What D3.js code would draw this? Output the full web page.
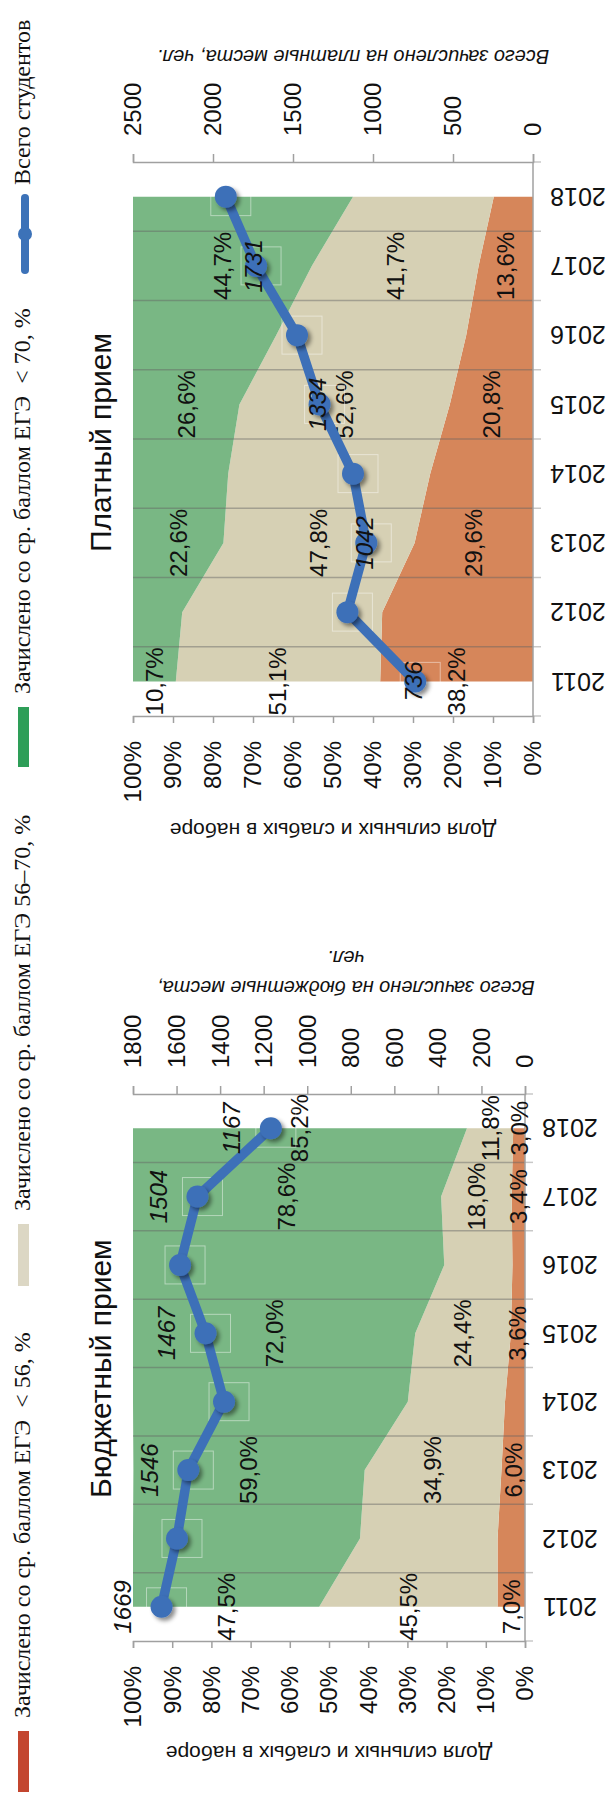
<!DOCTYPE html>
<html><head><meta charset="utf-8">
<script src="https://cdn.jsdelivr.net/npm/d3@7"></script>
<style>
html,body{margin:0;padding:0;background:#fff;}
svg{display:block;}
text{white-space:pre;}
</style></head>
<body>
<svg id="c" width="610" height="1799"></svg>
<script>
// ---------- DATA ----------
const years = [2011, 2012, 2013, 2014, 2015, 2016, 2017, 2018];

// Платный прием (paid), shares in %
const paidLow  = [38.2, 37.7, 29.6, 25.7, 20.8, 16.7, 13.6, 9.8];   // < 56
const paidMid  = [51.1, 50.0, 47.8, 50.5, 52.6, 47.5, 41.7, 35.2];  // 56–70
const paidHigh = [10.7, 12.3, 22.6, 23.8, 26.6, 35.8, 44.7, 55.0];  // > 70
const paidTotal = [736, 1160, 1042, 1125, 1334, 1475, 1731, 1920];
const paidLabelYears = [2011, 2013, 2015, 2017];

// Бюджетный прием (budget)
const budgetLow  = [7.0, 7.0, 6.0, 5.1, 3.6, 3.2, 3.4, 3.0];
const budgetMid  = [45.5, 35.1, 34.9, 24.8, 24.4, 17.4, 18.0, 11.8];
const budgetHigh = [47.5, 57.9, 59.0, 70.1, 72.0, 79.4, 78.6, 85.2];
const budgetTotal = [1669, 1598, 1546, 1382, 1467, 1584, 1504, 1167];
const budgetLabelYears = [2011, 2013, 2015, 2017, 2018];

const pctTicks = [0, 10, 20, 30, 40, 50, 60, 70, 80, 90, 100];
const paidCountTicks = [0, 500, 1000, 1500, 2000, 2500];
const budgetCountTicks = [0, 200, 400, 600, 800, 1000, 1200, 1400, 1600, 1800];

const legendLabels = ["Зачислено со ср. баллом ЕГЭ  < 56, %",
                      "Зачислено со ср. баллом ЕГЭ 56–70, %",
                      "Зачислено со ср. баллом ЕГЭ  < 70, %",
                      "Всего студентов"];

// ---------- STYLE ----------
const areaColors = ["#d6865a", "#d6d0b4", "#79b784"];
const legendColors = ["#c3462f", "#dcd7c4", "#2e9e58", "#3c72b8"];
const lineColor = "#3d70b8";
const sans = "'Liberation Sans', Arial, sans-serif";
const serif = "'Liberation Serif', 'Times New Roman', serif";

const svg = d3.select("#c");
const defs = svg.append("defs");
const f = defs.append("filter").attr("id", "sh").attr("x", "-50%").attr("y", "-50%").attr("width", "200%").attr("height", "200%");
f.append("feDropShadow").attr("dx", 3).attr("dy", 3).attr("stdDeviation", 2.2).attr("flood-color", "#000").attr("flood-opacity", 0.45);

const fmtPct = v => d3.format(".1f")(v).replace(".", ",") + "%";

function panel(cfg) {
  const g = svg.append("g");
  const x = d3.scaleLinear().domain([0, 100]).range([cfg.right, cfg.left]);
  const xc = d3.scaleLinear().domain([0, cfg.countMax]).range([cfg.right, cfg.left]);
  const y = d3.scalePoint().domain(years).range([cfg.bottom, cfg.top]).padding(0.5);
  const band = (cfg.bottom - cfg.top) / years.length;

  const rows = years.map((yr, i) => ({year: yr, low: cfg.low[i], mid: cfg.mid[i], high: cfg.high[i], total: cfg.total[i]}));
  const stack = d3.stack().keys(["low", "mid", "high"])(rows);

  const area = d3.area().y(d => y(d.data.year)).x0(d => x(d[0])).x1(d => x(d[1]));
  g.selectAll("path.a").data(stack).join("path").attr("class", "a")
    .attr("d", area).attr("fill", (d, i) => areaColors[i]);

  // category boundaries (gridlines + ticks)
  const bounds = d3.range(years.length + 1).map(k => cfg.bottom - k * band);
  g.selectAll("line.grid").data(bounds.slice(1, -1)).join("line").attr("class", "grid")
    .attr("x1", cfg.left).attr("x2", cfg.right).attr("y1", d => d).attr("y2", d => d)
    .attr("stroke", "rgba(100,100,100,0.45)").attr("stroke-width", 1.5);
  g.selectAll("line.ct").data(bounds).join("line").attr("class", "ct")
    .attr("x1", cfg.right).attr("x2", cfg.right + 8).attr("y1", d => d).attr("y2", d => d)
    .attr("stroke", "#c8c8c8").attr("stroke-width", 1.5);
  // category axis line
  g.append("line").attr("x1", cfg.right).attr("x2", cfg.right).attr("y1", cfg.top).attr("y2", cfg.bottom)
    .attr("stroke", "#a0a0a0").attr("stroke-width", 1.5);

  // percent axis (bottom)
  const pa = g.append("g").attr("transform", `translate(0,${cfg.bottom})`)
    .call(d3.axisBottom(x).tickValues(pctTicks).tickSize(7).tickFormat(""));
  pa.select(".domain").attr("stroke", "#a0a0a0").attr("stroke-width", 1.5);
  pa.selectAll(".tick line").attr("stroke", "#a0a0a0").attr("stroke-width", 1.5);
  g.selectAll("text.pt").data(pctTicks).join("text").attr("class", "pt")
    .attr("transform", d => `translate(${x(d)},${cfg.bottom + 25}) rotate(-90)`)
    .attr("text-anchor", "end").attr("dy", "0.35em")
    .style("font", `24px ${sans}`).attr("fill", "#111").text(d => d + "%");

  // count axis (top)
  const ca = g.append("g").attr("transform", `translate(0,${cfg.top})`)
    .call(d3.axisTop(xc).tickValues(cfg.countTicks).tickSize(8).tickFormat(""));
  ca.select(".domain").attr("stroke", "#a0a0a0").attr("stroke-width", 1.5);
  ca.selectAll(".tick line").attr("stroke", "#a0a0a0").attr("stroke-width", 1.5);
  g.selectAll("text.ctk").data(cfg.countTicks).join("text").attr("class", "ctk")
    .attr("transform", d => `translate(${xc(d)},${cfg.top - 26}) rotate(-90)`)
    .attr("text-anchor", "start").attr("dy", "0.35em")
    .style("font", `24px ${sans}`).attr("fill", "#111").text(d => d);

  // year labels (upside down)
  g.selectAll("text.yr").data(years).join("text").attr("class", "yr")
    .attr("transform", d => `translate(${cfg.right + 45},${y(d)}) rotate(180)`)
    .attr("text-anchor", "middle").attr("dy", "0.35em")
    .style("font", `25px ${sans}`).attr("fill", "#111").text(d => d);

  // axis titles (upside down)
  g.append("text").attr("transform", `translate(${(cfg.left + cfg.right) / 2},${cfg.pctTitleY}) rotate(180)`)
    .attr("text-anchor", "middle").attr("dy", "0.35em")
    .style("font", `21px ${sans}`).attr("fill", "#111").text("Доля сильных и слабых в наборе");
  cfg.countTitle.forEach((t, i) => {
    g.append("text").attr("transform", `translate(${cfg.countTitleX},${cfg.countTitleY[i]}) rotate(180)`)
      .attr("text-anchor", "middle").attr("dy", "0.35em")
      .style("font", `italic 20px ${sans}`).attr("fill", "#111").text(t);
  });

  // chart title
  g.append("text").attr("transform", `translate(111,${cfg.titleY}) rotate(-90)`)
    .attr("text-anchor", "start")
    .style("font", `30px ${sans}`).attr("fill", "#111").text(cfg.title);

  // data labels for stacked areas
  const lab = [];
  rows.forEach(r => {
    if (!cfg.labelYears.includes(r.year)) return;
    const c0 = r.low, c1 = r.low + r.mid;
    lab.push({v: r.low, p: (0 + c0) / 2, yr: r.year});
    lab.push({v: r.mid, p: (c0 + c1) / 2, yr: r.year});
    lab.push({v: r.high, p: (c1 + 100) / 2, yr: r.year});
  });
  g.selectAll("text.dl").data(lab).join("text").attr("class", "dl")
    .attr("transform", d => `translate(${x(d.p)},${y(d.yr)}) rotate(-90)`)
    .attr("text-anchor", "middle").attr("dy", "0.35em")
    .style("font", `24px ${sans}`).attr("fill", "#111").text(d => fmtPct(d.v));

  // faint marker boxes
  g.selectAll("rect.bx").data(rows).join("rect").attr("class", "bx")
    .attr("x", d => xc(d.total) - 15).attr("y", d => y(d.year) - 19)
    .attr("width", 40).attr("height", 38)
    .attr("fill", "none").attr("stroke", "rgba(255,255,255,0.45)").attr("stroke-width", 1);

  // total line
  const line = d3.line().x(d => xc(d.total)).y(d => y(d.year));
  g.append("path").datum(rows).attr("d", line).attr("fill", "none")
    .attr("stroke", lineColor).attr("stroke-width", 9.5).attr("stroke-linejoin", "round");
  g.selectAll("circle.m").data(rows).join("circle").attr("class", "m")
    .attr("cx", d => xc(d.total)).attr("cy", d => y(d.year)).attr("r", 11)
    .attr("fill", lineColor).attr("filter", "url(#sh)");

  // line value labels
  g.selectAll("text.lv").data(rows.filter(r => cfg.labelYears.includes(r.year))).join("text").attr("class", "lv")
    .attr("transform", d => `translate(${xc(d.total) + cfg.lineLabelDx},${y(d.year)}) rotate(-90)`)
    .attr("text-anchor", "middle").attr("dy", "0.35em")
    .style("font", `italic 24px ${sans}`).attr("fill", "#111").text(d => d.total);
}

panel({
  top: 162, bottom: 716, left: 133, right: 533, countMax: 2500,
  low: paidLow, mid: paidMid, high: paidHigh, total: paidTotal,
  labelYears: paidLabelYears, countTicks: paidCountTicks,
  pctTitleY: 830, countTitle: ["Всего зачислено на платные места, чел."], countTitleX: 353, countTitleY: [57],
  title: "Платный прием", titleY: 552, lineLabelDx: -2
});
panel({
  top: 1094, bottom: 1641, left: 133, right: 525, countMax: 1800,
  low: budgetLow, mid: budgetMid, high: budgetHigh, total: budgetTotal,
  labelYears: budgetLabelYears, countTicks: budgetCountTicks,
  pctTitleY: 1753, countTitle: ["Всего зачислено на бюджетные места,", "чел."], countTitleX: 346, countTitleY: [988, 958],
  title: "Бюджетный прием", titleY: 1498, lineLabelDx: -39
});

// ---------- LEGEND ----------
const legendSpans = [[1731, 1792], [1224, 1286], [707, 767], [198, 270]];
const lg = svg.append("g");
legendLabels.forEach((t, i) => {
  const [a, b] = legendSpans[i];
  if (i < 3) {
    lg.append("rect").attr("x", 18).attr("y", a).attr("width", 11).attr("height", b - a).attr("fill", legendColors[i]);
  } else {
    lg.append("line").attr("x1", 25).attr("x2", 25).attr("y1", a).attr("y2", b)
      .attr("stroke", legendColors[i]).attr("stroke-width", 8).attr("stroke-linecap", "round");
    lg.append("circle").attr("cx", 25).attr("cy", (a + b) / 2).attr("r", 7).attr("fill", legendColors[i]);
  }
  lg.append("text").attr("transform", `translate(30,${a - 13}) rotate(-90)`)
    .attr("text-anchor", "start").style("font", `24px ${serif}`).attr("fill", "#111").text(t);
});
</script>
</body></html>
